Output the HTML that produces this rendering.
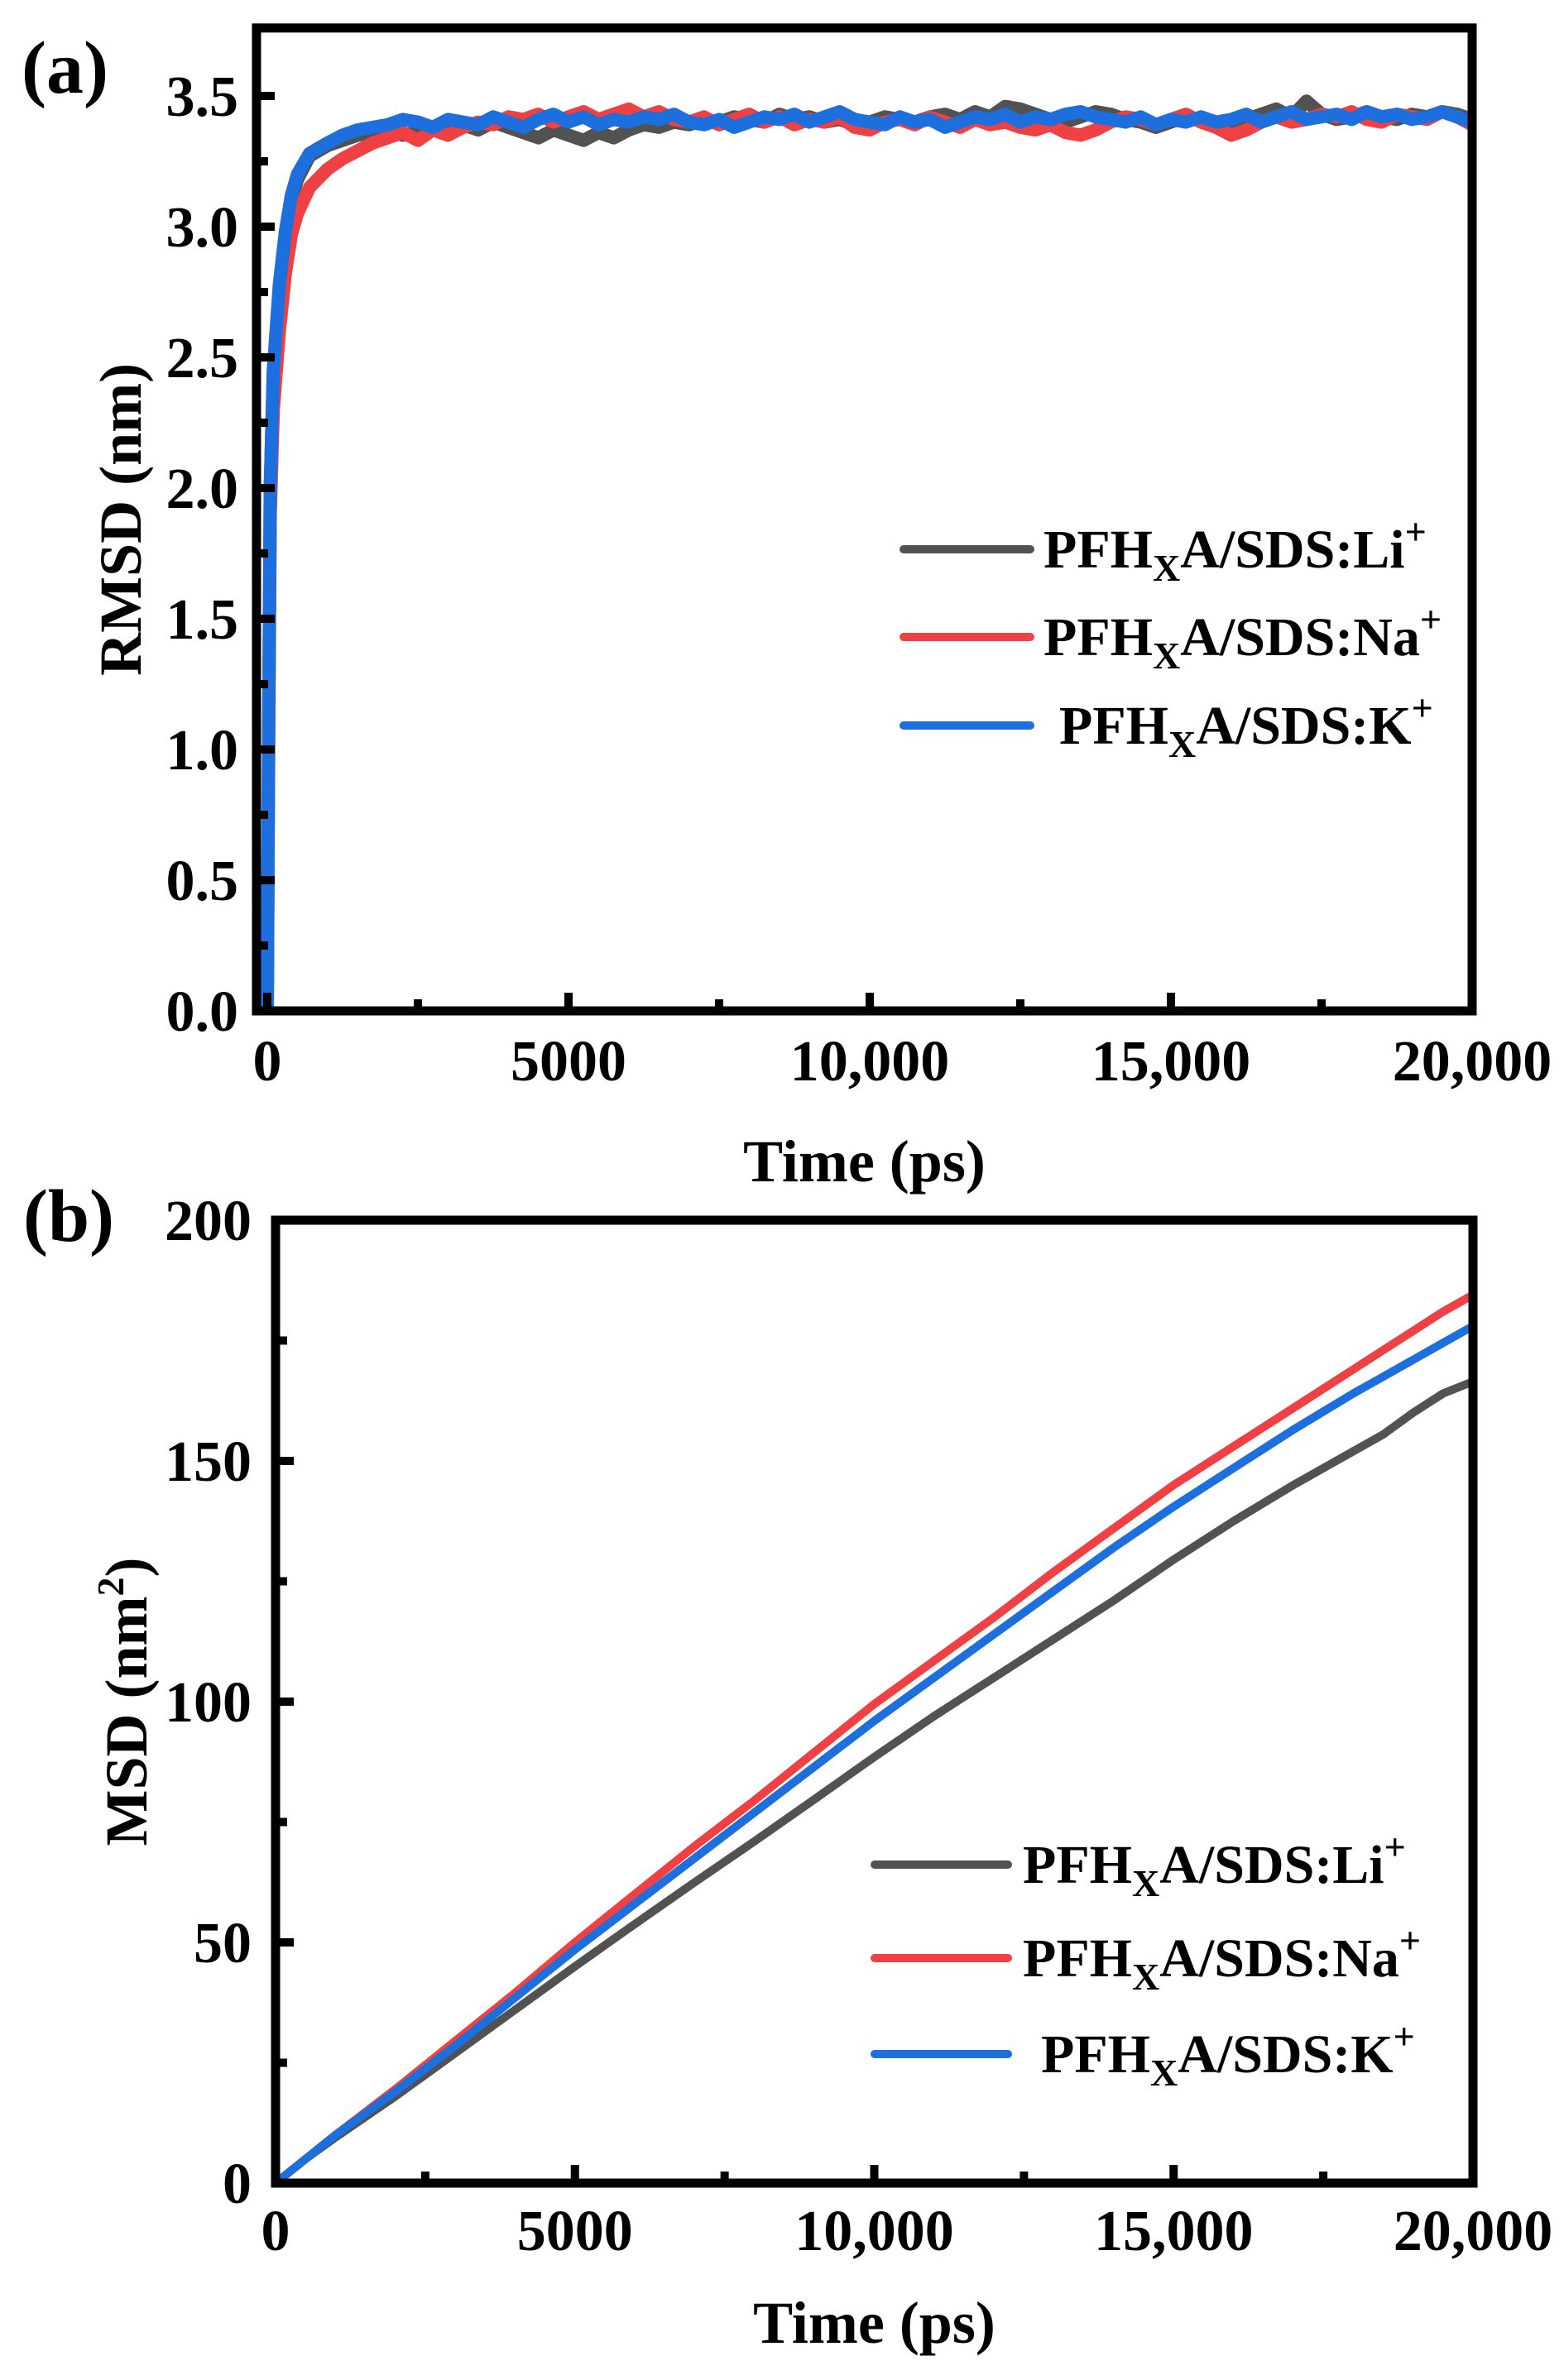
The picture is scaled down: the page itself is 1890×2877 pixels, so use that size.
<!DOCTYPE html>
<html><head><meta charset="utf-8"><style>
html,body{margin:0;padding:0;background:#fff;}
svg, svg text, svg tspan{font-family:"Liberation Serif","Times New Roman",Times,serif;font-weight:bold;}
</style></head><body>
<svg id="fig" width="1890" height="2872" viewBox="0 0 1890 2872" xmlns="http://www.w3.org/2000/svg" font-family="Liberation Serif, Times New Roman, serif" font-weight="bold">
<g id="pa"></g>
<g id="pb"></g>
</svg>
<script>
const seriesNames = ["PFHxA/SDS:Li+", "PFHxA/SDS:Na+", "PFHxA/SDS:K+"];
const seriesKeys = ["li", "na", "k"];
const colors = ["#525252", "#ef4143", "#1c6fdc"];

// Panel (a) RMSD
const rmsdEarlyTime = [0, 20, 50, 100, 200, 300, 400, 500, 700, 1000, 1250, 1500, 1750];
const rmsdEarlyLi = [0, 1.0, 2.0, 2.45, 2.75, 2.95, 3.1, 3.18, 3.27, 3.31, 3.33, 3.35, 3.36];
const rmsdEarlyNa = [0, 0.9, 1.9, 2.3, 2.6, 2.82, 2.97, 3.05, 3.15, 3.22, 3.26, 3.29, 3.32];
const rmsdEarlyK  = [0, 1.0, 2.0, 2.45, 2.78, 2.98, 3.12, 3.2, 3.28, 3.32, 3.35, 3.37, 3.38];
const rmsdPlateauStart = 2000;
const rmsdPlateauStep = 250;
const rmsdLi = [3.37,3.35,3.36,3.38,3.36,3.39,3.37,3.40,3.38,3.36,3.34,3.37,3.35,3.33,3.36,3.34,3.37,3.39,3.38,3.40,3.39,3.41,3.40,3.42,3.41,3.40,3.43,3.41,3.42,3.40,3.41,3.39,3.40,3.42,3.41,3.40,3.42,3.43,3.41,3.44,3.42,3.46,3.45,3.43,3.41,3.40,3.42,3.44,3.43,3.41,3.40,3.38,3.40,3.42,3.41,3.39,3.40,3.41,3.43,3.45,3.42,3.48,3.43,3.41,3.42,3.44,3.42,3.41,3.43,3.42,3.44,3.43,3.41];
const rmsdNa = [3.34,3.36,3.33,3.37,3.35,3.38,3.40,3.39,3.42,3.41,3.43,3.40,3.42,3.44,3.41,3.43,3.45,3.42,3.44,3.41,3.40,3.42,3.39,3.41,3.43,3.40,3.42,3.39,3.41,3.40,3.42,3.38,3.37,3.40,3.41,3.39,3.42,3.40,3.38,3.41,3.39,3.40,3.38,3.37,3.39,3.36,3.35,3.37,3.40,3.42,3.41,3.39,3.41,3.43,3.40,3.38,3.35,3.37,3.40,3.42,3.40,3.41,3.43,3.42,3.44,3.41,3.40,3.43,3.42,3.41,3.44,3.42,3.39];
const rmsdK  = [3.39,3.41,3.40,3.38,3.41,3.40,3.39,3.42,3.40,3.38,3.41,3.43,3.40,3.42,3.39,3.41,3.40,3.42,3.41,3.43,3.40,3.39,3.41,3.38,3.40,3.42,3.41,3.43,3.40,3.42,3.44,3.41,3.40,3.39,3.42,3.40,3.41,3.38,3.40,3.42,3.41,3.43,3.40,3.42,3.41,3.43,3.44,3.42,3.41,3.40,3.42,3.39,3.41,3.40,3.42,3.40,3.41,3.43,3.40,3.42,3.44,3.41,3.42,3.43,3.41,3.44,3.42,3.43,3.41,3.42,3.44,3.42,3.40];
const rmsdXTicks = [0, 5000, 10000, 15000, 20000];
const rmsdXTickLabels = ["0", "5000", "10,000", "15,000", "20,000"];
const rmsdYTicks = [0, 0.5, 1.0, 1.5, 2.0, 2.5, 3.0, 3.5];
const rmsdYTickLabels = ["0.0", "0.5", "1.0", "1.5", "2.0", "2.5", "3.0", "3.5"];

// Panel (b) MSD
const msdTime = [0, 500, 1000, 2000, 3000, 4000, 5000, 6000, 7000, 8000, 9000, 10000, 11000, 12000, 13000, 14000, 15000, 16000, 17000, 18000, 18500, 19000, 19500, 20000];
const msdLi = [0, 5, 9.5, 18, 27, 36, 45, 53.8, 62.5, 71, 79.7, 88.5, 97, 105, 113, 121, 129.5, 137.5, 145, 152, 155.5, 160, 164, 166.5];
const msdNa = [0, 5, 10, 19.5, 29.5, 39.5, 50, 60, 70, 79.5, 89.5, 99.5, 108.5, 117.5, 127, 136, 145, 153, 161, 169, 173, 177, 181, 184.5];
const msdK  = [0, 5, 10, 19, 28.5, 38.5, 48.5, 58, 67.5, 77, 86.5, 96, 105, 114, 123, 132, 140.5, 148.5, 156.5, 164, 167.5, 171, 174.5, 178];
const msdXTicks = [0, 5000, 10000, 15000, 20000];
const msdXTickLabels = ["0", "5000", "10,000", "15,000", "20,000"];
const msdYTicks = [0, 50, 100, 150, 200];
const msdYTickLabels = ["0", "50", "100", "150", "200"];

const NS = "http://www.w3.org/2000/svg";
const FONT = "'Liberation Serif', 'Times New Roman', Times, serif";
function mk(tag, attrs, parent) {
  const e = document.createElementNS(NS, tag);
  for (const k in attrs) e.setAttribute(k, attrs[k]);
  if (tag === "text") { e.setAttribute("font-family", FONT); e.setAttribute("font-weight", "bold"); }
  parent.appendChild(e);
  return e;
}

function buildPanel(g, cfg) {
  const sx = v => cfg.x0 + (v - cfg.xmin) / (cfg.xmax - cfg.xmin) * (cfg.x1 - cfg.x0);
  const sy = v => cfg.y0 - (v - cfg.ymin) / (cfg.ymax - cfg.ymin) * (cfg.y0 - cfg.y1);
  const L = sx(cfg.fxmin), R = sx(cfg.fxmax), T = sy(cfg.fymax), B = sy(cfg.fymin);

  const cid = "clip" + cfg.id;
  const defs = mk("defs", {}, g);
  const cp = mk("clipPath", {id: cid}, defs);
  mk("rect", {x: L, y: T, width: R - L, height: B - T}, cp);

  const lines = mk("g", {"clip-path": "url(#" + cid + ")"}, g);
  
  
  cfg.series.forEach((s, si) => {
    let d = "";
    s.x.forEach((xv, i) => { d += (i ? "L" : "M") + sx(xv).toFixed(1) + " " + sy(s.y[i]).toFixed(1); });
    const p = mk("path", {d: d, fill: "none", stroke: colors[si], "stroke-width": cfg.lw, "stroke-linejoin": "round", "stroke-linecap": "round"}, lines);
    
    
  });

  const fr = mk("rect", {x: L, y: T, width: R - L, height: B - T, fill: "none", stroke: "#000", "stroke-width": 11}, g);
  
  

  cfg.xTicks.forEach((v, i) => {
    const t = mk("line", {x1: sx(v), x2: sx(v), y1: B, y2: B - 22, stroke: "#000", "stroke-width": 10}, g);
    
    
    const tx = mk("text", {x: sx(v), y: cfg.xLabelY, "text-anchor": "middle", "font-size": 70}, g);
    tx.textContent = cfg.xTickLabels[i];
    
    
    if (i < cfg.xTicks.length - 1) {
      const mv = (v + cfg.xTicks[i + 1]) / 2;
      const m = mk("line", {x1: sx(mv), x2: sx(mv), y1: B, y2: B - 14, stroke: "#000", "stroke-width": 10}, g);
      
      
    }
  });
  cfg.yTicks.forEach((v, i) => {
    const t = mk("line", {x1: L, x2: L + 22, y1: sy(v), y2: sy(v), stroke: "#000", "stroke-width": 10}, g);
    
    
    const tx = mk("text", {x: cfg.yLabelX, y: sy(v) + 24, "text-anchor": "end", "font-size": 70}, g);
    tx.textContent = cfg.yTickLabels[i];
    
    
    if (i < cfg.yTicks.length - 1) {
      const mv = (v + cfg.yTicks[i + 1]) / 2;
      const m = mk("line", {x1: L, x2: L + 14, y1: sy(mv), y2: sy(mv), stroke: "#000", "stroke-width": 10}, g);
      
      
    }
  });

  const xt = mk("text", {x: (L + R) / 2, y: cfg.xTitleY, "text-anchor": "middle", "font-size": 72}, g);
  xt.textContent = "Time (ps)";
  
  
  const yt = mk("text", {x: 0, y: 0, "text-anchor": "middle", "font-size": 72, transform: "translate(" + cfg.yTitleX + "," + ((T + B) / 2) + ") rotate(-90)"}, g);
  
  
  yt.appendChild(document.createTextNode(cfg.yTitle));
  if (cfg.yTitleSup) {
    const s = mk("tspan", {"font-size": 46, dy: -28}, yt); s.textContent = cfg.yTitleSup;
    const c = mk("tspan", {dy: 28}, yt); c.textContent = ")";
  }

  const pl = mk("text", {x: cfg.letterX, y: cfg.letterY, "font-size": 90}, g);
  pl.textContent = cfg.letter;
  
  

  const labels = [["Li", "+"], ["Na", "+"], ["K", "+"]];
  cfg.legendY.forEach((ly, i) => {
    const lg = mk("g", {}, g);
    
    
    mk("line", {x1: cfg.legX0, x2: cfg.legX1, y1: ly, y2: ly, stroke: colors[i], "stroke-width": 10, "stroke-linecap": "round"}, lg);
    const t = mk("text", {x: cfg.legTextX[i], y: ly + 22, "font-size": 66}, lg);
    t.appendChild(document.createTextNode("PFH"));
    const sub = mk("tspan", {"font-size": 46, dy: 16}, t); sub.textContent = "X";
    const a = mk("tspan", {dy: -16}, t); a.textContent = "A/SDS:" + labels[i][0];
    const sup = mk("tspan", {"font-size": 46, dy: -28}, t); sup.textContent = labels[i][1];
  });
}

const rmsdTime = rmsdEarlyTime.slice();
for (let i = 0; i < rmsdLi.length; i++) rmsdTime.push(rmsdPlateauStart + rmsdPlateauStep * i);
const rmsdSeries = [rmsdEarlyLi.concat(rmsdLi), rmsdEarlyNa.concat(rmsdNa), rmsdEarlyK.concat(rmsdK)];

buildPanel(document.getElementById("pa"), {
  id: "rmsd", x0: 323, x1: 1779, xmin: 0, xmax: 20000, y0: 1222, y1: 116, ymin: 0, ymax: 3.5,
  fxmin: -179, fxmax: 20000, fymin: 0, fymax: 3.76, lw: 16,
  series: [0, 1, 2].map(i => ({x: rmsdTime, y: rmsdSeries[i]})),
  xTicks: rmsdXTicks, xTickLabels: rmsdXTickLabels, yTicks: rmsdYTicks, yTickLabels: rmsdYTickLabels,
  xLabelY: 1306, yLabelX: 288, xTitleY: 1428, yTitleX: 170, yTitle: "RMSD (nm)",
  letter: "(a)", letterX: 26, letterY: 112,
  legendY: [664, 770, 877], legX0: 1092, legX1: 1245, legTextX: [1261, 1261, 1280]
});

buildPanel(document.getElementById("pb"), {
  id: "msd", x0: 333, x1: 1780, xmin: 0, xmax: 20000, y0: 2639, y1: 1475, ymin: 0, ymax: 200,
  fxmin: 0, fxmax: 20000, fymin: 0, fymax: 200, lw: 10,
  series: [{x: msdTime, y: msdLi}, {x: msdTime, y: msdNa}, {x: msdTime, y: msdK}],
  xTicks: msdXTicks, xTickLabels: msdXTickLabels, yTicks: msdYTicks, yTickLabels: msdYTickLabels,
  xLabelY: 2720, yLabelX: 304, xTitleY: 2832, yTitleX: 177, yTitle: "MSD (nm", yTitleSup: "2",
  letter: "(b)", letterX: 28, letterY: 1500,
  legendY: [2254, 2367, 2483], legX0: 1057, legX1: 1218, legTextX: [1236, 1236, 1258]
});
</script>
</body></html>
